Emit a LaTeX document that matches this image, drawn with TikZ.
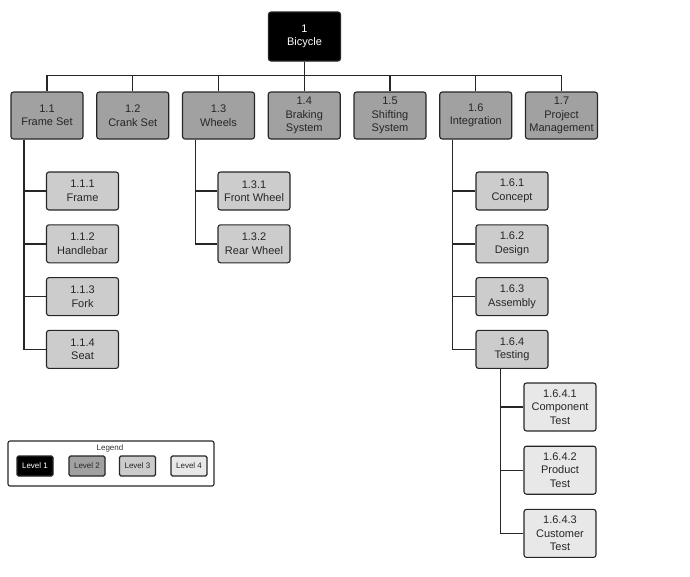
\documentclass[tikz,border=0pt]{standalone}
\usepackage{fontspec}
\setmainfont{Liberation Sans}
\tikzset{
  wbs/.style={draw=black!85,line width=1.1pt,rounded corners=2.5pt,align=center,
    minimum width=72pt,inner sep=1pt,text=black!85,
    font=\fontsize{11}{13.5}\selectfont},
  lvlone/.style={wbs,fill=black,text=white,minimum height=49pt},
  lvltwo/.style={wbs,fill=black!37,minimum height=47pt},
  lvlthree/.style={wbs,fill=black!20,minimum height=38pt},
  lvlfour/.style={wbs,fill=black!9,minimum height=48pt},
  link/.style={line width=1.4pt,draw=black!85},
}
\begin{document}
\begin{tikzpicture}[x=1pt,y=-1pt]
    \useasboundingbox (0,0) rectangle (690,576);
    \node[lvlone] (root) at (304.5,36.5) {1\\Bicycle};
    % level 2
    \foreach \i/\t in {1/Frame Set,2/Crank Set,3/Wheels,4/Braking\\System,
      5/Shifting\\System,6/Integration,7/Project\\Management}
    {
      \node[lvltwo] (n\i) at ({47+85.75*(\i-1)},115.5) {1.\i\\\t};
      \draw[link] (root.south) -- ++(0,14) -| (n\i.north);
    }
    % level 3
    \foreach \j/\t in {1/Frame,2/Handlebar,3/Fork,4/Seat}
    {
      \node[lvlthree] (n1\j) at (82.5,{191+52.8*(\j-1)}) {1.1.\j\\\t};
      \draw[link] ([xshift=13.5pt]n1.south west) |- (n1\j.west);
    }
    \foreach \j/\t in {1/Front Wheel,2/Rear Wheel}
    {
      \node[lvlthree] (n3\j) at (254,{191+52.8*(\j-1)}) {1.3.\j\\\t};
      \draw[link] ([xshift=13.5pt]n3.south west) |- (n3\j.west);
    }
    \foreach \j/\t in {1/Concept,2/Design,3/Assembly,4/Testing}
    {
      \node[lvlthree] (n6\j) at (512,{191+52.8*(\j-1)}) {1.6.\j\\\t};
      \draw[link] ([xshift=13.5pt]n6.south west) |- (n6\j.west);
    }
    % level 4
    \foreach \k/\t in {1/Component,2/Product,3/Customer}
    {
      \node[lvlfour] (n64\k) at (560,{407+63.2*(\k-1)}) {1.6.4.\k\\\t\\Test};
      \draw[link] ([xshift=25pt]n64.south west) |- (n64\k.west);
    }
    % legend
    \node[draw=black!85,line width=1.1pt,rounded corners=2pt,minimum width=206pt,
      minimum height=45pt] (legend) at (111,463.5) {};
    \node[font=\fontsize{8}{9}\selectfont,text=black!80] (legtitle) at (110,448) {Legend};
    \foreach \l/\x/\s in {1/35/lvlone,2/87/lvltwo,3/137.5/lvlthree,4/189/lvlfour}
      \node[\s,minimum width=36pt,minimum height=20pt,rounded corners=1.5pt,
        font=\fontsize{8}{9}\selectfont] (key\l) at (\x,466) {Level \l};
\end{tikzpicture}
\end{document}
